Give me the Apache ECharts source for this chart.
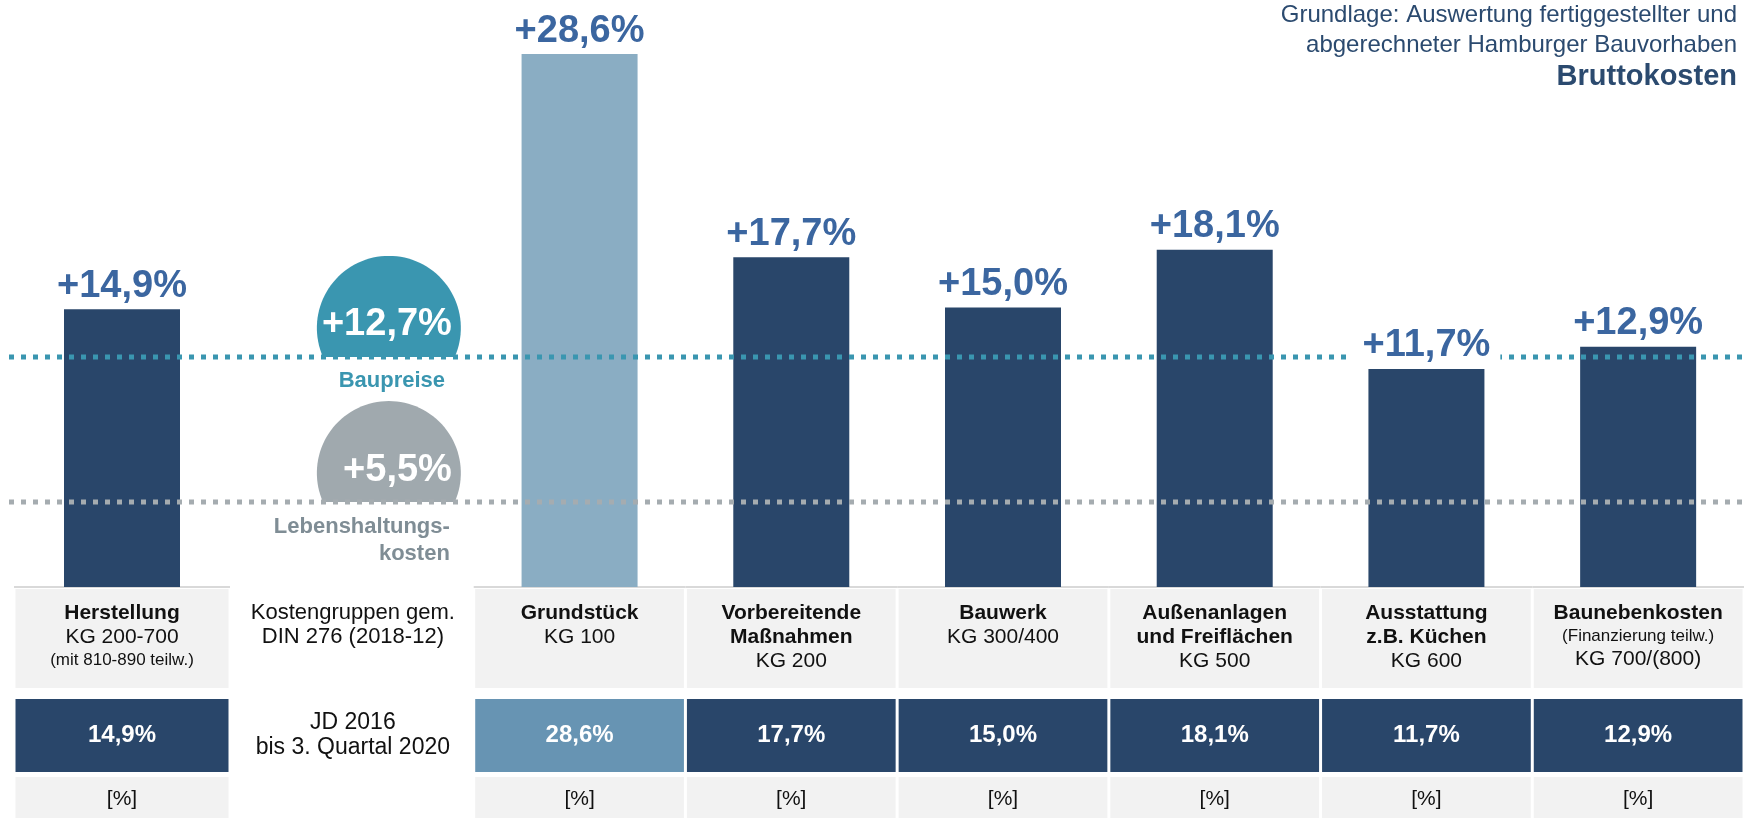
<!DOCTYPE html>
<html>
<head>
<meta charset="utf-8">
<script src="https://cdn.jsdelivr.net/npm/echarts@6/dist/echarts.min.js"></script>
<style>
  html, body { margin: 0; padding: 0; background: #fff; }
  #chart { width: 1744px; height: 818px; }
</style>
</head>
<body>
<div id="chart"></div>
<script>
// Spalten (Kostengruppen); Spalte 2 ist die Beschriftungsspalte ohne Balken
var categories = ['Herstellung', 'Kostengruppen', 'Grundstück', 'Vorbereitende Maßnahmen', 'Bauwerk', 'Außenanlagen und Freiflächen', 'Ausstattung', 'Baunebenkosten'];
var increase = [14.9, null, 28.6, 17.7, 15.0, 18.1, 11.7, 12.9];
var headerText = [
    '{b|Herstellung}\n{n|KG 200-700}\n{s|(mit 810-890 teilw.)}',
    '{l|Kostengruppen gem.}\n{l|DIN 276 (2018-12)}',
    '{b|Grundstück}\n{n|KG 100}',
    '{b|Vorbereitende}\n{b|Maßnahmen}\n{n|KG 200}',
    '{b|Bauwerk}\n{n|KG 300/400}',
    '{b|Außenanlagen}\n{b|und Freiflächen}\n{n|KG 500}',
    '{b|Ausstattung}\n{b|z.B. Küchen}\n{n|KG 600}',
    '{b|Baunebenkosten}\n{s|(Finanzierung teilw.)}\n{n|KG 700/(800)}'
];
var periodText = 'JD 2016\nbis 3. Quartal 2020';
var unitText = '[%]';

// Vergleichsindizes (Kreise + gepunktete Linien)
var indexLabels = ['+12,7%', '+5,5%'];
var indexNames = ['Baupreise', 'Lebenshaltungs-\nkosten'];
var indexLevels = [12.35, 4.56];   // Lage der Linien

var titleLines = ['Grundlage: Auswertung fertiggestellter und', 'abgerechneter Hamburger Bauvorhaben'];
var titleMain = 'Bruttokosten';

var FONT = "'Liberation Sans', Arial, sans-serif";
var NAVY = '#29466A', LAND = '#8AADC3', LAND_CELL = '#6794B3', TITLE = '#2B4A6F';
var landIndex = categories.indexOf('Grundstück');
var legendIndex = categories.indexOf('Kostengruppen');

// Herstellung steht links fuer sich, der Rest (ab Beschriftungsspalte) in einem zweiten Raster
var parts = [
    { from: 0, to: 1, grid: { left: 14, width: 216, top: 28, bottom: 231 } },
    { from: 1, to: categories.length, grid: { left: 262, right: -5, top: 28, bottom: 231 } }
];

function fmt(v) {
    return v.toFixed(1).replace('.', ',') + '%';
}

function tableItem(from) {
    return function (params, api) {
        var i = from + params.dataIndex;
        var p = api.coord([params.dataIndex, 0]);
        var w = api.size([1, 0])[0];
        var x0 = p[0] - w / 2 + 1.5, cw = w - 3, y0 = p[1];
        var isLegend = increase[i] == null;
        var tx = isLegend ? p[0] - 15 : p[0];
        var children = [];
        if (!isLegend) {
            children.push({ type: 'rect', shape: { x: p[0] - w / 2, y: y0 - 1, width: w, height: 2 }, style: { fill: '#D9D9D9' } });
            children.push({ type: 'rect', shape: { x: x0, y: y0 + 2, width: cw, height: 99 }, style: { fill: '#F2F2F2' } });
            children.push({ type: 'rect', shape: { x: x0, y: y0 + 112, width: cw, height: 73 }, style: { fill: i === landIndex ? LAND_CELL : NAVY } });
            children.push({ type: 'rect', shape: { x: x0, y: y0 + 190, width: cw, height: 41 }, style: { fill: '#F2F2F2' } });
        }
        children.push({
            type: 'text', x: tx, y: y0 + 14,
            style: {
                text: headerText[i], align: 'center', verticalAlign: 'top',
                rich: {
                    b: { fontSize: 21, lineHeight: 24, fontWeight: 'bold', fontFamily: FONT, fill: '#111' },
                    n: { fontSize: 21, lineHeight: 24, fontFamily: FONT, fill: '#111' },
                    s: { fontSize: 17, lineHeight: 22, fontFamily: FONT, fill: '#111' },
                    l: { fontSize: 22, lineHeight: 24, fontFamily: FONT, fill: '#111' }
                }
            }
        });
        children.push({
            type: 'text', x: tx, y: y0 + 148,
            style: isLegend ? {
                text: periodText, fill: '#111', fontSize: 23, lineHeight: 25,
                fontFamily: FONT, align: 'center', verticalAlign: 'middle'
            } : {
                text: fmt(increase[i]), fill: '#fff', fontSize: 24, fontWeight: 'bold',
                fontFamily: FONT, align: 'center', verticalAlign: 'middle'
            }
        });
        if (!isLegend) {
            children.push({
                type: 'text', x: p[0], y: y0 + 212,
                style: { text: unitText, fill: '#111', fontSize: 21, fontFamily: FONT, align: 'center', verticalAlign: 'middle' }
            });
        }
        return { type: 'group', children: children };
    };
}

function indexItem(params, api) {
    var i = params.dataIndex;
    var p = api.coord([api.value(0), api.value(1)]);
    var cx = p[0] + 21, ly = p[1], cy = ly - 29, r = 72;
    var a = Math.asin((ly - cy) / r);
    var pts = [];
    for (var k = 0; k <= 72; k++) {
        var t = Math.PI - a + (Math.PI + 2 * a) * k / 72;
        pts.push([cx + r * Math.cos(t), cy + r * Math.sin(t)]);
    }
    var fillCol = i === 0 ? '#3A96B0' : '#A0A9AE';
    var lineCol = i === 0 ? '#3A96B0' : '#A5ACB0';
    var nameCol = i === 0 ? '#3A96B0' : '#7F8D95';
    return {
        type: 'group',
        children: [
            { type: 'polygon', shape: { points: pts }, style: { fill: fillCol } },
            {
                type: 'line',
                shape: { x1: 9, y1: ly, x2: api.getWidth(), y2: ly },
                style: { stroke: lineCol, lineWidth: 5, lineDash: [5, 7] }
            },
            {
                type: 'text', x: cx + 63, y: cy - 3,
                style: {
                    text: indexLabels[i], fill: '#fff', fontSize: 38, fontWeight: 'bold',
                    fontFamily: FONT, align: 'right', verticalAlign: 'middle'
                }
            },
            {
                type: 'text',
                x: i === 0 ? cx + 3 : cx + 61,
                y: ly + 11,
                style: {
                    text: indexNames[i], fill: nameCol, fontSize: 22, fontWeight: 'bold',
                    fontFamily: FONT, lineHeight: 27,
                    align: i === 0 ? 'center' : 'right', verticalAlign: 'top'
                }
            }
        ]
    };
}

var grids = [], xAxes = [], yAxes = [], series = [];
parts.forEach(function (part, k) {
    var vals = increase.slice(part.from, part.to).map(function (v) { return v == null ? '-' : v; });
    grids.push(part.grid);
    xAxes.push({ type: 'category', gridIndex: k, data: categories.slice(part.from, part.to), show: false });
    yAxes.push({ type: 'value', gridIndex: k, min: 0, max: 30, show: false });
    series.push({
        type: 'bar',
        xAxisIndex: k, yAxisIndex: k,
        z: 2,
        barWidth: 116,
        silent: true,
        data: vals,
        itemStyle: {
            color: function (p) { return part.from + p.dataIndex === landIndex ? LAND : NAVY; }
        }
    });
    series.push({
        // Prozentwerte ueber den Balken
        type: 'scatter',
        xAxisIndex: k, yAxisIndex: k,
        z: 4,
        silent: true,
        symbolSize: 0,
        itemStyle: { opacity: 1 },
        data: vals,
        label: {
            show: true,
            position: 'top',
            distance: 1,
            formatter: function (p) { return '+' + fmt(p.value); },
            color: '#3B66A0',
            fontSize: 38,
            fontWeight: 'bold',
            fontFamily: FONT,
            backgroundColor: '#fff',
            padding: [0, 10, 3, 10]
        }
    });
    series.push({
        // Tabelle unter dem Diagramm
        type: 'custom',
        xAxisIndex: k, yAxisIndex: k,
        z: 1,
        clip: false,
        silent: true,
        data: vals.map(function (v, j) { return [j, 0]; }),
        renderItem: tableItem(part.from)
    });
});

series.push({
    // Baupreise / Lebenshaltungskosten
    type: 'custom',
    xAxisIndex: 1, yAxisIndex: 1,
    z: 3,
    clip: false,
    silent: true,
    data: indexLevels.map(function (v) { return [legendIndex - parts[1].from, v]; }),
    renderItem: indexItem
});

var chart = echarts.init(document.getElementById('chart'));
chart.setOption({
    animation: false,
    backgroundColor: '#fff',
    grid: grids,
    xAxis: xAxes,
    yAxis: yAxes,
    graphic: [
        { type: 'text', right: 7, top: 3, style: { text: titleLines[0], fill: TITLE, fontSize: 24, fontFamily: FONT } },
        { type: 'text', right: 7, top: 33, style: { text: titleLines[1], fill: TITLE, fontSize: 24, fontFamily: FONT } },
        { type: 'text', right: 7, top: 62, style: { text: titleMain, fill: TITLE, fontSize: 29, fontWeight: 'bold', fontFamily: FONT } }
    ],
    series: series
});
</script>
</body>
</html>
